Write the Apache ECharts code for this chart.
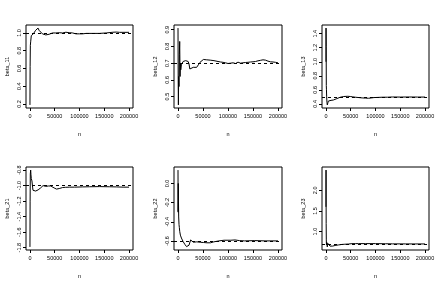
<!DOCTYPE html>
<html>
<head>
<meta charset="utf-8">
<script src="https://cdn.jsdelivr.net/npm/echarts@6/dist/echarts.min.js"></script>
<style>
html,body{margin:0;padding:0;background:#fff;}
#chart{width:442px;height:285px;}
</style>
</head>
<body>
<div id="chart"></div>
<script>
// ---- data ----
const panelNames = ['beta_11', 'beta_12', 'beta_13', 'beta_21', 'beta_22', 'beta_23'];
const trueValues = [1.0, 0.7, 0.5, -1.0, -0.6, 0.7];
const xTicks = [0, 50000, 100000, 150000, 200000];
const yTicks11 = [0.2, 0.4, 0.6, 0.8, 1.0];
const yTicks12 = [0.5, 0.6, 0.7, 0.8, 0.9];
const yTicks13 = [0.4, 0.6, 0.8, 1.0, 1.2, 1.4];
const yTicks21 = [-1.8, -1.6, -1.4, -1.2, -1.0, -0.8];
const yTicks22 = [-0.6, -0.4, -0.2, 0.0];
const yTicks23 = [1.0, 1.5, 2.0];

const beta11 = [[0,0.19],[300,0.62],[800,0.86],[1400,0.9],[2700,0.97],[4700,0.98],[6800,0.99],[9500,1.01],[11500,1.03],[13600,1.05],
  [16300,1.055],[18300,1.03],[21700,1.01],[25100,0.99],[28500,0.98],[31900,0.978],[35300,0.977],[38600,0.985],[42000,0.99],[45400,1.0],
  [52200,1.0],[59000,1.003],[65800,1.0],[72500,1.008],[79300,1.003],[86100,1.0],[92900,0.99],[99700,0.99],[106400,0.99],[113200,0.995],
  [126800,0.995],[140300,0.995],[153900,1.0],[167500,1.008],[174200,1.01],[181000,1.007],[187800,1.007],[200000,1.007]];

const beta12 = [[0,0.91],[400,0.6],[800,0.45],[1300,0.62],[2000,0.56],[2700,0.75],[3400,0.83],[4100,0.62],[4800,0.7],[5500,0.66],
  [6800,0.69],[8200,0.68],[10200,0.71],[12000,0.7],[13600,0.72],[15300,0.715],[17000,0.725],[18700,0.72],[20300,0.71],[22000,0.695],
  [23700,0.665],[25400,0.675],[27100,0.67],[30500,0.675],[34000,0.67],[37300,0.675],[40700,0.69],[44000,0.705],[47500,0.715],[50800,0.722],
  [54000,0.727],[57500,0.72],[61000,0.722],[64500,0.718],[68000,0.72],[72000,0.715],[76000,0.718],[80000,0.71],[85000,0.707],[90000,0.705],
  [95000,0.702],[100000,0.698],[105000,0.7],[110000,0.702],[115000,0.698],[120000,0.706],[125000,0.7],[130000,0.702],[135000,0.704],[140000,0.705],
  [145000,0.707],[150000,0.708],[155000,0.71],[160000,0.714],[165000,0.717],[170000,0.72],[175000,0.718],[180000,0.712],[185000,0.708],[190000,0.707],
  [195000,0.705],[200000,0.702]];

const beta13 = [[0,1.0],[150,1.48],[400,1.22],[700,0.66],[1000,0.6],[1400,0.5],[2000,0.42],[2700,0.385],[3500,0.41],[4800,0.44],
  [5800,0.415],[6800,0.42],[8500,0.43],[10200,0.45],[12500,0.44],[15000,0.455],[18400,0.47],[22000,0.475],[25200,0.485],[29000,0.495],
  [32000,0.5],[36000,0.505],[39000,0.51],[44000,0.508],[49000,0.505],[54000,0.5],[59000,0.495],[66000,0.49],[73000,0.485],[80000,0.482],
  [86000,0.48],[92000,0.485],[97000,0.49],[105000,0.492],[114000,0.495],[124000,0.495],[134000,0.498],[150000,0.497],[168000,0.498],[185000,0.497],
  [200000,0.497]];

const beta21 = [[0,-1.79],[300,-1.2],[700,-0.85],[1400,-0.8],[2000,-0.86],[2700,-0.91],[4000,-0.94],[4700,-0.96],[5500,-1.03],[6100,-1.06],
  [8100,-1.07],[10000,-1.065],[11500,-1.07],[13500,-1.06],[14900,-1.065],[16500,-1.055],[18300,-1.05],[19700,-1.04],[21500,-1.03],[23700,-1.02],
  [26400,-1.0],[29000,-1.005],[31900,-1.01],[34500,-1.0],[37300,-1.005],[40000,-1.0],[42000,-1.005],[45000,-1.015],[48800,-1.03],[51000,-1.04],
  [53600,-1.045],[56000,-1.042],[59000,-1.038],[62000,-1.03],[65800,-1.025],[72000,-1.022],[79300,-1.02],[90000,-1.02],[106400,-1.017],[120000,-1.015],
  [140300,-1.013],[160000,-1.015],[174200,-1.017],[188000,-1.02],[200000,-1.02]];

const beta22 = [[0,0.14],[300,-0.3],[500,0.0],[700,-0.29],[1000,-0.2],[1365,-0.35],[2048,-0.43],[2700,-0.46],[3413,-0.5],[4100,-0.52],
  [4778,-0.54],[6826,-0.57],[8500,-0.59],[10239,-0.607],[12000,-0.62],[13652,-0.636],[15500,-0.65],[17065,-0.66],[19000,-0.663],[20478,-0.655],
  [22000,-0.645],[23891,-0.625],[25256,-0.59],[27304,-0.605],[30717,-0.614],[34000,-0.608],[37543,-0.61],[44369,-0.614],[51195,-0.617],[58020,-0.62],
  [64846,-0.62],[71672,-0.61],[81911,-0.6],[92150,-0.593],[105802,-0.593],[113993,-0.59],[122867,-0.597],[133106,-0.6],[153584,-0.597],[174061,-0.6],
  [200000,-0.6]];

const beta23 = [[0,1.6],[150,2.49],[400,1.2],[700,0.8],[1000,0.68],[1360,0.75],[2000,0.78],[2721,0.63],[3500,0.72],[4762,0.68],
  [6000,0.7],[8163,0.65],[10000,0.66],[11565,0.655],[13500,0.65],[14966,0.652],[18367,0.665],[22000,0.672],[25170,0.678],[31973,0.69],
  [38000,0.695],[45578,0.7],[52381,0.71],[60000,0.71],[66000,0.71],[80000,0.71],[100000,0.71],[120000,0.707],[134014,0.704],[160000,0.703],
  [180000,0.702],[200000,0.702]];

// ---- chart ----
const seriesData = [beta11, beta12, beta13, beta21, beta22, beta23];
const yTickSets = [yTicks11, yTicks12, yTicks13, yTicks21, yTicks22, yTicks23];

const FONT = '"Liberation Sans", Arial, Helvetica, sans-serif';
const FS = 5.5;
const gridLefts = [26, 174, 322];
const gridWidths = [107, 108, 107];
const gridTops = [25, 167];
const gridHeight = 83;

function rangeOf(vals) {
  let lo = Math.min.apply(null, vals), hi = Math.max.apply(null, vals);
  const d = (hi - lo) * 0.04;
  return [lo - d, hi + d];
}

const grids = [], xAxes = [], yAxes = [], series = [];
seriesData.forEach(function (data, i) {
  const row = Math.floor(i / 3), col = i % 3;
  grids.push({
    left: gridLefts[col], top: gridTops[row], width: gridWidths[col], height: gridHeight,
    show: true, borderColor: '#000', borderWidth: 1, backgroundColor: 'transparent'
  });
  const xr = rangeOf(data.map(function (p) { return p[0]; }));
  const yr = rangeOf(data.map(function (p) { return p[1]; }));
  xAxes.push({
    type: 'value', gridIndex: i, min: xr[0], max: xr[1],
    axisLine: { show: false, onZero: false },
    splitLine: { show: false },
    axisTick: { show: true, inside: false, length: 3, customValues: xTicks, lineStyle: { color: '#000', width: 1 } },
    axisLabel: { customValues: xTicks, fontSize: FS, fontFamily: FONT, color: '#000', margin: 5,
      formatter: function (v) { return String(v); } },
    name: 'n', nameLocation: 'middle', nameGap: 23,
    nameTextStyle: { fontSize: FS, fontFamily: FONT, color: '#000' }
  });
  yAxes.push({
    type: 'value', gridIndex: i, min: yr[0], max: yr[1],
    axisLine: { show: false, onZero: false },
    splitLine: { show: false },
    axisTick: { show: true, inside: false, length: 3, customValues: yTickSets[i], lineStyle: { color: '#000', width: 1 } },
    axisLabel: { customValues: yTickSets[i], rotate: 90, fontSize: FS, fontFamily: FONT, color: '#000', margin: 4,
      formatter: function (v) { return (Math.abs(v) < 1e-9 ? 0 : v).toFixed(1); } },
    name: panelNames[i], nameLocation: 'middle', nameRotate: 90, nameGap: 16,
    nameTextStyle: { fontSize: FS, fontFamily: FONT, color: '#000' }
  });
  series.push({
    type: 'line', xAxisIndex: i, yAxisIndex: i, data: data,
    showSymbol: false, symbol: 'none', smooth: false,
    lineStyle: { color: '#000', width: 1 },
    markLine: {
      silent: true, symbol: ['none', 'none'], label: { show: false },
      lineStyle: { type: [3, 3], color: '#000', width: 1 },
      data: [{ yAxis: trueValues[i] }]
    }
  });
});

const chart = echarts.init(document.getElementById('chart'), null, { renderer: 'canvas' });
chart.setOption({
  animation: false,
  backgroundColor: '#fff',
  grid: grids, xAxis: xAxes, yAxis: yAxes, series: series
});
</script>
</body>
</html>
